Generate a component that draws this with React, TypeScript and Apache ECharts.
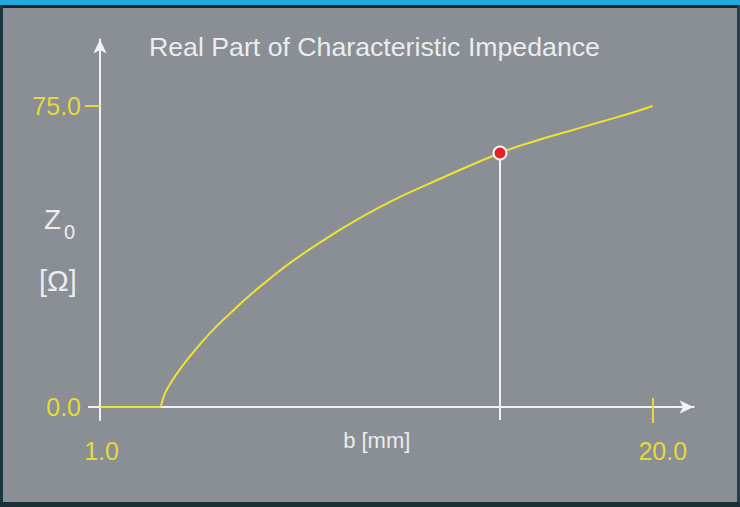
import React, { useEffect, useRef } from "react";
import * as echarts from "echarts";

// ---- data ----
const flatB = [1.0, 3.09];
const flatZ = [0, 0];
const curveB = [3.09, 3.2, 3.4, 3.7, 4.09, 4.78, 5.47, 6.16, 6.74, 7.63, 8.8, 9.94, 11.07, 12.24, 14.75, 15.88, 17.05, 18.19, 19.32, 20.0];
const curveZ = [0, 2.8, 5.6, 8.9, 12.6, 18.4, 23.3, 27.9, 31.4, 36.4, 42.1, 47.1, 51.5, 55.4, 63.3, 66.1, 68.6, 71.0, 73.4, 75.0];
const markerB = [14.75];
const markerZ = [63.3];
const xTickLabels = [1, 20];
const yTickLabels = [0, 75];
const titleText = "Real Part of Characteristic Impedance";
const xName = "b [mm]";

const FONT = "'Liberation Sans', Arial, Helvetica, sans-serif";
const YELLOW = "#e6d83e";
const CURVE = "#f0e232";
const WHITE = "#f2f2f2";
const TEXT = "#ececec";

export default function App() {
  const ref = useRef<HTMLDivElement>(null);
  useEffect(() => {
    if (!ref.current) return;
    const chart = echarts.init(ref.current, null, { renderer: "svg" });
    const xMin = 1;
    const xMax = 21.402;
    const yMin = -3.239;
    const yMax = 91.57;
    const option: any = {
      animation: false,
      backgroundColor: "#898f95",
      title: {
        text: titleText,
        left: 144,
        top: 28,
        textStyle: { color: TEXT, fontSize: 26.7, fontWeight: "normal", fontFamily: FONT },
      },
      grid: { left: 100, right: 46.5, top: 39.5, bottom: 87, containLabel: false },
      xAxis: [
        {
          type: "value",
          min: xMin,
          max: xMax,
          position: "bottom",
          name: xName,
          nameLocation: "middle",
          nameGap: 9,
          nameMoveOverlap: false,
          nameTextStyle: { color: TEXT, fontSize: 22, fontFamily: FONT, padding: [0, 40, 0, 0] },
          axisLine: {
            show: true,
            onZero: true,
            onZeroAxisIndex: 0,
            symbol: ["none", "arrow"],
            symbolSize: [10, 14],
            lineStyle: { color: WHITE, width: 2 },
          },
          axisTick: { show: true, customValues: [20], length: 16, lineStyle: { color: YELLOW, width: 2 } },
          axisLabel: {
            show: true,
            customValues: xTickLabels,
            margin: 18,
            formatter: (v: number) => (v === 20 ? "{r|" + v.toFixed(1) + "}" : "{n|" + v.toFixed(1) + "}"),
            rich: {
              n: { color: YELLOW, fontSize: 25, fontFamily: FONT, padding: [0, 0, 0, 3] },
              r: { color: YELLOW, fontSize: 25, fontFamily: FONT, padding: [0, 0, 0, 20] },
            },
          },
          splitLine: { show: false },
        },
        {
          type: "value",
          min: xMin,
          max: xMax,
          position: "top",
          axisLine: { show: true, onZero: true, onZeroAxisIndex: 0, symbol: ["none", "none"], lineStyle: { color: WHITE, width: 2 } },
          axisTick: { show: true, customValues: [20], length: 9, lineStyle: { color: YELLOW, width: 2 } },
          axisLabel: { show: false },
          splitLine: { show: false },
        },
      ],
      yAxis: [
        {
          type: "value",
          min: yMin,
          max: yMax,
          position: "left",
          axisLine: {
            show: true,
            onZero: false,
            symbol: ["none", "arrow"],
            symbolSize: [10, 14],
            lineStyle: { color: WHITE, width: 2 },
          },
          axisTick: { show: true, customValues: [75], length: 15, lineStyle: { color: YELLOW, width: 2 } },
          axisLabel: {
            show: true,
            customValues: yTickLabels,
            margin: 19,
            color: YELLOW,
            fontSize: 25,
            fontFamily: FONT,
            formatter: (v: number) => v.toFixed(1),
          },
          splitLine: { show: false },
        },
        {
          type: "value",
          min: yMin,
          max: yMax,
          position: "left",
          offset: 0,
          axisLine: { show: false, onZero: false },
          axisTick: { show: true, customValues: [0], length: 12, lineStyle: { color: WHITE, width: 2 } },
          axisLabel: { show: false },
          splitLine: { show: false },
        },
      ],
      graphic: [
        { type: "rect", shape: { x: 0, y: 0, width: 740, height: 5 }, style: { fill: "#22a9df" }, silent: true },
        { type: "rect", shape: { x: 0, y: 5, width: 740, height: 3 }, style: { fill: "#17262c" }, silent: true },
        { type: "rect", shape: { x: 0, y: 5, width: 3, height: 502 }, style: { fill: "#1d3640" }, silent: true },
        { type: "rect", shape: { x: 737, y: 5, width: 3, height: 502 }, style: { fill: "#2a3c44" }, silent: true },
        { type: "rect", shape: { x: 0, y: 502, width: 740, height: 5 }, style: { fill: "#1a2f38" }, silent: true },
        {
          type: "text",
          left: 44,
          top: 205,
          style: { text: "Z", fill: TEXT, fontSize: 28, fontFamily: FONT },
        },
        {
          type: "text",
          left: 64,
          top: 222,
          style: { text: "0", fill: TEXT, fontSize: 20, fontFamily: FONT },
        },
        {
          type: "text",
          left: 39,
          top: 266,
          style: { text: "[Ω]", fill: TEXT, fontSize: 29, fontFamily: FONT },
        },
      ],
      series: [
        {
          type: "line",
          data: flatB.map((b, i) => [b, flatZ[i]]),
          showSymbol: false,
          lineStyle: { color: CURVE, width: 2 },
          z: 3,
        },
        {
          type: "line",
          data: curveB.map((b, i) => [b, curveZ[i]]),
          showSymbol: false,
          smooth: 0.5,
          lineStyle: { color: CURVE, width: 2 },
          z: 3,
          markLine: {
            silent: true,
            symbol: ["none", "none"],
            label: { show: false },
            lineStyle: { color: WHITE, width: 2, type: "solid" },
            data: [
              [
                { coord: [markerB[0], markerZ[0]] },
                { coord: [markerB[0], yMin] },
              ],
            ],
          },
        },
        {
          type: "scatter",
          data: markerB.map((b, i) => [b, markerZ[i]]),
          symbolSize: 13,
          itemStyle: { color: "#e2231f", borderColor: "#f4f4f4", borderWidth: 2, opacity: 1 },
          z: 6,
        },
      ],
    };
    chart.setOption(option);
    return () => chart.dispose();
  }, []);
  return (
    <div
      ref={ref}
      style={{ position: "fixed", left: 0, top: 0, width: 740, height: 507 }}
    />
  );
}
